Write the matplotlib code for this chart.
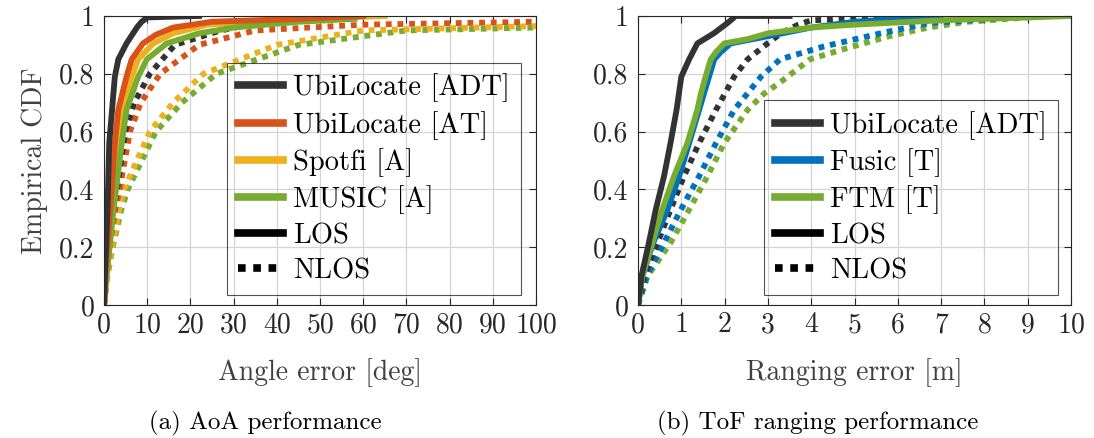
#!/usr/bin/env python3
"""Empirical CDFs of AoA and ToF ranging error, LOS vs NLOS."""

import matplotlib
matplotlib.use("Agg")
import matplotlib.pyplot as plt
from matplotlib.lines import Line2D

plt.rcParams["font.family"] = ["cmr10", "DejaVu Serif"]
plt.rcParams["axes.formatter.use_mathtext"] = True
plt.rcParams["mathtext.fontset"] = "cm"

# === DATA ===
# (a) AoA error [deg]
aoa_adt_los_x = [0, 0.2, 0.8, 1.2, 2.5, 3.3, 5.2, 7.6, 8.7, 10, 22]
aoa_adt_los_y = [0, 0.10, 0.33, 0.56, 0.79, 0.85, 0.905, 0.96, 0.98, 0.995, 1.0]
aoa_at_los_x = [0, 0.3, 1.4, 2.5, 3.3, 5.2, 6.4, 9, 12, 16, 25, 45, 60]
aoa_at_los_y = [0, 0.10, 0.33, 0.56, 0.675, 0.79, 0.85, 0.905, 0.935, 0.96, 0.98, 0.99, 1.0]
aoa_spotfi_los_x = [0, 0.5, 1.8, 3.3, 4.3, 6.4, 7.9, 11.4, 16, 24, 40, 65]
aoa_spotfi_los_y = [0, 0.10, 0.33, 0.56, 0.675, 0.79, 0.85, 0.905, 0.94, 0.97, 0.985, 1.0]
aoa_music_los_x = [0, 0.6, 1.4, 2.2, 4.1, 5.2, 7.9, 9.9, 14.5, 22, 30, 45, 58]
aoa_music_los_y = [0, 0.10, 0.215, 0.33, 0.56, 0.675, 0.79, 0.85, 0.905, 0.94, 0.96, 0.98, 0.99]

aoa_adt_nlos_x = [0, 0.4, 1.0, 2.2, 3.0, 4.9, 7.0, 10.6, 16.4, 27, 37, 40]
aoa_adt_nlos_y = [0, 0.10, 0.20, 0.33, 0.40, 0.60, 0.70, 0.80, 0.90, 0.95, 0.98, 0.985]
aoa_at_nlos_x = [0, 0.5, 1.3, 2.6, 3.6, 6.0, 8.5, 13, 22, 35, 60, 100]
aoa_at_nlos_y = [0, 0.10, 0.20, 0.33, 0.40, 0.60, 0.70, 0.80, 0.90, 0.95, 0.97, 0.98]
aoa_spotfi_nlos_x = [0, 0.7, 1.8, 3.5, 4.6, 10.6, 16, 23, 40, 60, 100]
aoa_spotfi_nlos_y = [0, 0.10, 0.20, 0.33, 0.40, 0.60, 0.70, 0.80, 0.90, 0.95, 0.965]
aoa_music_nlos_x = [0, 0.8, 2.0, 4.0, 5.5, 12, 18, 26, 45, 70, 100]
aoa_music_nlos_y = [0, 0.10, 0.20, 0.33, 0.40, 0.60, 0.70, 0.80, 0.90, 0.95, 0.96]

# (b) ToF ranging error [m]
tof_adt_los_x = [0, 0.08, 0.25, 0.41, 0.6, 0.75, 0.89, 1.0, 1.18, 1.37, 1.75, 2.06, 2.18, 2.25, 3.5]
tof_adt_los_y = [0, 0.10, 0.215, 0.33, 0.445, 0.56, 0.675, 0.79, 0.85, 0.905, 0.94, 0.975, 0.99, 1.0, 1.0]
tof_fusic_los_x = [0, 0.1, 0.35, 0.68, 0.95, 1.18, 1.41, 1.64, 1.76, 1.91, 2.14, 3.0, 4.0, 5.0, 6.0, 7.0]
tof_fusic_los_y = [0, 0.10, 0.215, 0.33, 0.445, 0.56, 0.675, 0.79, 0.85, 0.875, 0.905, 0.93, 0.96, 0.98, 0.99, 1.0]
tof_ftm_los_x = [0, 0.1, 0.33, 0.56, 0.83, 1.14, 1.37, 1.45, 1.56, 1.68, 1.8, 1.99, 2.53, 3.0, 4.0, 5.0, 7.0, 10.0]
tof_ftm_los_y = [0, 0.10, 0.215, 0.33, 0.445, 0.56, 0.675, 0.73, 0.79, 0.85, 0.875, 0.905, 0.92, 0.94, 0.96, 0.97, 0.985, 1.0]

tof_adt_nlos_x = [0, 0.14, 0.45, 0.75, 1.06, 1.41, 1.8, 2.22, 2.53, 2.99, 3.3, 3.7, 4.0, 6.4]
tof_adt_nlos_y = [0, 0.10, 0.215, 0.33, 0.445, 0.56, 0.675, 0.79, 0.85, 0.905, 0.94, 0.97, 0.985, 1.0]
tof_fusic_nlos_x = [0, 0.2, 0.6, 0.99, 1.41, 1.8, 2.22, 2.84, 3.28, 4.28, 5.6, 6.7, 8.2, 9.0]
tof_fusic_nlos_y = [0, 0.10, 0.215, 0.33, 0.445, 0.56, 0.675, 0.79, 0.85, 0.894, 0.94, 0.975, 0.99, 1.0]
tof_ftm_nlos_x = [0, 0.22, 0.75, 1.18, 1.6, 1.99, 2.53, 2.9, 3.28, 3.97, 4.74, 5.8, 6.7, 7.6, 9.5]
tof_ftm_nlos_y = [0, 0.10, 0.215, 0.33, 0.445, 0.56, 0.675, 0.73, 0.77, 0.85, 0.885, 0.93, 0.96, 0.98, 1.0]

AOA_LABELS = ["UbiLocate [ADT]", "UbiLocate [AT]", "Spotfi [A]", "MUSIC [A]"]
TOF_LABELS = ["UbiLocate [ADT]", "Fusic [T]", "FTM [T]"]

# === STYLE ===
C_ADT = "#333333"
C_AT = "#D95319"
C_SPOTFI = "#EDB120"
C_GREEN = "#77AC30"
C_BLUE = "#0072BD"
LW = 4.2
LEG_LW = 5.5
DOT = (0, (1, 1))
FS_TICK = 20
FS_LABEL = 20
FS_LEG = 20.5
FS_CAP = 18


def style_axes(ax, xmax, xticks):
    ax.set_xlim(0, xmax)
    ax.set_ylim(0, 1)
    ax.set_xticks(xticks)
    ax.set_xticklabels([str(t) for t in xticks])
    ax.set_yticks([0, 0.2, 0.4, 0.6, 0.8, 1])
    ax.set_yticklabels(["0", "0.2", "0.4", "0.6", "0.8", "1"])
    ax.grid(True, color="#d4d4d4", linewidth=0.9)
    ax.set_axisbelow(True)
    ax.tick_params(direction="in", top=True, right=True, labelsize=FS_TICK,
                   length=5, width=0.8, colors="#262626")
    ax.tick_params(axis="x", pad=5)
    ax.tick_params(axis="y", pad=7)
    for s in ax.spines.values():
        s.set_color("#262626")
        s.set_linewidth(0.8)


def add_legend(ax, handles, labels, anchor):
    leg = ax.legend(handles, labels, loc="lower right", bbox_to_anchor=anchor,
                    fontsize=FS_LEG, frameon=True, fancybox=False,
                    facecolor="none", edgecolor="#262626", handlelength=1.6,
                    handletextpad=0.35, labelspacing=0.3, borderpad=0.38,
                    borderaxespad=0)
    leg.get_frame().set_linewidth(0.8)


fig = plt.figure(figsize=(10.94, 4.38), dpi=100)
ax1 = fig.add_axes([0.0951, 0.3037, 0.3949, 0.6598])
ax2 = fig.add_axes([0.5832, 0.3037, 0.3958, 0.6598])

# --- (a) AoA ---
ax1.plot(aoa_music_nlos_x, aoa_music_nlos_y, color=C_GREEN, lw=LW, ls=DOT)
ax1.plot(aoa_spotfi_nlos_x, aoa_spotfi_nlos_y, color=C_SPOTFI, lw=LW, ls=DOT)
ax1.plot(aoa_at_nlos_x, aoa_at_nlos_y, color=C_AT, lw=LW, ls=DOT)
ax1.plot(aoa_adt_nlos_x, aoa_adt_nlos_y, color=C_ADT, lw=LW, ls=DOT)
ax1.plot(aoa_spotfi_los_x, aoa_spotfi_los_y, color=C_SPOTFI, lw=LW)
ax1.plot(aoa_music_los_x, aoa_music_los_y, color=C_GREEN, lw=LW)
ax1.plot(aoa_at_los_x, aoa_at_los_y, color=C_AT, lw=LW)
ax1.plot(aoa_adt_los_x, aoa_adt_los_y, color=C_ADT, lw=LW)
style_axes(ax1, 100, list(range(0, 101, 10)))
ax1.set_xlabel("Angle error [deg]", fontsize=FS_LABEL, color="#404040", labelpad=14)
ax1.set_ylabel("Empirical CDF", fontsize=FS_LABEL, color="#404040", labelpad=8)

h1 = [Line2D([], [], color=c, lw=LEG_LW) for c in [C_ADT, C_AT, C_SPOTFI, C_GREEN]]
h1 += [Line2D([], [], color="black", lw=LEG_LW),
       Line2D([], [], color="black", lw=LEG_LW, ls=DOT)]
add_legend(ax1, h1, AOA_LABELS + ["LOS", "NLOS"], (0.965, 0.035))

# --- (b) ToF ---
ax2.plot(tof_ftm_nlos_x, tof_ftm_nlos_y, color=C_GREEN, lw=LW, ls=DOT)
ax2.plot(tof_fusic_nlos_x, tof_fusic_nlos_y, color=C_BLUE, lw=LW, ls=DOT)
ax2.plot(tof_adt_nlos_x, tof_adt_nlos_y, color=C_ADT, lw=LW, ls=DOT)
ax2.plot(tof_fusic_los_x, tof_fusic_los_y, color=C_BLUE, lw=LW)
ax2.plot(tof_ftm_los_x, tof_ftm_los_y, color=C_GREEN, lw=LW)
ax2.plot(tof_adt_los_x, tof_adt_los_y, color=C_ADT, lw=LW)
style_axes(ax2, 10, list(range(0, 11)))
ax2.set_xlabel("Ranging error [m]", fontsize=FS_LABEL, color="#404040", labelpad=14)

h2 = [Line2D([], [], color=c, lw=LEG_LW) for c in [C_ADT, C_BLUE, C_GREEN]]
h2 += [Line2D([], [], color="black", lw=LEG_LW),
       Line2D([], [], color="black", lw=LEG_LW, ls=DOT)]
add_legend(ax2, h2, TOF_LABELS + ["LOS", "NLOS"], (0.97, 0.035))

fig.text(0.2425, 0.02, "(a) AoA performance", ha="center", fontsize=FS_CAP)
fig.text(0.7475, 0.02, "(b) ToF ranging performance", ha="center", fontsize=FS_CAP)

fig.savefig("out.png", dpi=100)
